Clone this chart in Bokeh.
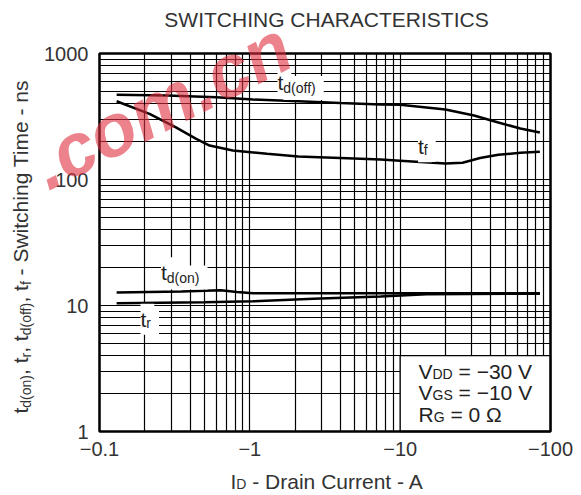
import math
from bokeh.plotting import figure
from bokeh.models import Label, BoxAnnotation, FixedTicker, Range1d, Grid
from bokeh.embed import file_html
from bokeh.resources import INLINE

# ---------------- data ----------------
# drain current magnitude (A) and switching times (ns)
toff_x = [0.13, 0.28, 0.6, 1.05, 2.1, 4, 7.4, 10, 20, 31, 45, 63, 85]
toff_y = [470, 464, 450, 431, 418, 405, 394, 392, 360, 322, 283, 254, 236]

tf_x = [0.13, 0.215, 0.32, 0.44, 0.54, 0.77, 1.3, 2.1, 4, 7.4, 12, 20, 26, 34, 45, 63, 85]
tf_y = [418, 332, 260, 210, 186, 170, 160, 152, 148, 144, 139, 134, 136, 148, 157, 163, 166]

ton_x = [0.13, 0.35, 0.64, 0.82, 1.05, 7.4, 85]
ton_y = [12.7, 12.9, 13.2, 12.8, 12.5, 12.5, 12.5]

tr_x = [0.13, 0.5, 1.05, 2.65, 7.4, 15, 85]
tr_y = [10.4, 10.6, 10.8, 11.3, 11.8, 12.3, 12.4]

x_ticks = [0.1, 1, 10, 100]
x_tick_labels = ["\u22120.1", "\u22121", "\u221210", "\u2212100"]
y_ticks = [1, 10, 100, 1000]
y_tick_labels = ["1", "10", "100", "1000"]
x_minor = [m * 10.0 ** k for k in (-1, 0, 1) for m in range(2, 10)]
y_minor = [m * 10.0 ** k for k in (0, 1, 2) for m in range(2, 10)]

title_text = "SWITCHING CHARACTERISTICS"
cond_box = dict(left=10, right=100, bottom=1, top=4)

# ---------------- geometry ----------------
FONT = "Liberation Sans"
W, H = 573, 494                    # canvas
PL, PR, PT, PB = 99, 550, 53, 431  # data rectangle on the canvas
XMIN, XMAX = x_ticks[0], x_ticks[-1]
YMIN, YMAX = y_ticks[0], y_ticks[-1]
xdec = (PR - PL) / math.log10(XMAX / XMIN)
ydec = (PB - PT) / math.log10(YMAX / YMIN)
x_lo = XMIN * 10 ** (-PL / xdec)
x_hi = XMAX * 10 ** ((W - PR) / xdec)
y_lo = YMIN * 10 ** (-(H - PB) / ydec)
y_hi = YMAX * 10 ** (PT / ydec)

p = figure(width=W, height=H, x_axis_type="log", y_axis_type="log",
           x_range=Range1d(x_lo, x_hi), y_range=Range1d(y_lo, y_hi),
           output_backend="svg", toolbar_location=None, title=None,
           min_border=0)
p.background_fill_color = "white"
p.border_fill_color = "white"
p.outline_line_color = None

xt = FixedTicker(ticks=x_ticks, minor_ticks=x_minor)
yt = FixedTicker(ticks=y_ticks, minor_ticks=y_minor)
p.xaxis.ticker = xt
p.yaxis.ticker = yt
p.xgrid.ticker = xt
p.ygrid.ticker = yt
p.xaxis.fixed_location = YMIN
p.yaxis.fixed_location = XMIN
p.xaxis.major_label_overrides = dict(zip(x_ticks, x_tick_labels))
p.yaxis.major_label_overrides = dict(zip(y_ticks, y_tick_labels))

for ax in (p.xaxis, p.yaxis):
    ax.axis_line_color = None
    ax.major_tick_line_color = None
    ax.minor_tick_line_color = None
    ax.major_tick_out = 0
    ax.minor_tick_out = 0
    ax.major_label_text_font = FONT
    ax.major_label_text_font_size = "20px"
    ax.major_label_text_color = "#333333"
p.xaxis.major_label_standoff = 10
p.yaxis.major_label_standoff = 11

has_cross = "cross_bounds" in Grid.properties()
for g, b, cb in ((p.xgrid, (XMIN, XMAX), (YMIN, YMAX)),
                 (p.ygrid, (YMIN, YMAX), (XMIN, XMAX))):
    g.bounds = b
    if has_cross:
        g.cross_bounds = cb
    g.grid_line_color = "black" if has_cross else None
    g.grid_line_width = 1.2
    g.minor_grid_line_color = "black" if has_cross else None
    g.minor_grid_line_width = 1.2

if not has_cross:
    xs_all = x_ticks + x_minor
    ys_all = y_ticks + y_minor
    p.segment(xs_all, [YMIN] * len(xs_all), xs_all, [YMAX] * len(xs_all),
              line_color="black", line_width=1.2)
    p.segment([XMIN] * len(ys_all), ys_all, [XMAX] * len(ys_all), ys_all,
              line_color="black", line_width=1.2)

for xs, ys in ((toff_x, toff_y), (tf_x, tf_y), (ton_x, ton_y), (tr_x, tr_y)):
    p.line(xs, ys, line_color="black", line_width=2.5)

# test-condition box, then the frame border of the data area
p.add_layout(BoxAnnotation(left=cond_box["left"], right=cond_box["right"],
                           bottom=cond_box["bottom"], top=cond_box["top"],
                           fill_color="white", fill_alpha=1.0,
                           line_color="black", line_width=1.3, line_alpha=1.0))
p.add_layout(BoxAnnotation(left=XMIN, right=XMAX, bottom=YMIN, top=YMAX,
                           fill_alpha=0.0, line_color="black", line_width=2.5,
                           line_alpha=1.0))

# ---------------- text helpers ----------------
WID = {" ": 278, "(": 333, ")": 333, ",": 278, "-": 333, ".": 278, "=": 584,
       "\u2212": 584, "A": 667, "C": 722, "D": 722, "G": 778, "I": 278, "R": 722,
       "S": 667, "T": 611, "V": 667, "a": 556, "c": 500, "d": 556, "e": 556,
       "f": 278, "g": 556, "h": 556, "i": 222, "m": 833, "n": 556, "o": 556,
       "r": 333, "s": 500, "t": 278, "u": 556, "w": 722, "\u03a9": 768}


def tw(s, size):
    return sum(WID.get(c, 556) for c in s) * size / 1000.0


BASE_SHIFT = 0.35   # labels are laid out about the em-box middle; shift to the baseline
queues = {"bg": [], "fg": [], "wm": []}


def put(text, px, py, size, angle=0.0, color="#222222", align="left",
        style="normal", alpha=1.0, kind="fg"):
    off = BASE_SHIFT * size
    px -= off * math.sin(angle)
    py -= off * math.cos(angle)
    lab = Label(x=px, y=H - py, x_units="screen", y_units="screen",
                text=text, angle=angle, text_font=FONT,
                text_font_size=f"{size}px", text_color=color,
                text_align=align, text_baseline="alphabetic",
                text_font_style=style, text_alpha=alpha)
    if kind == "bg":
        lab.text_color = "white"
        lab.background_fill_color = "white"
        lab.background_fill_alpha = 1.0
        lab.padding = 4
    queues[kind].append(lab)


def rich(pieces, px, py, angle=0.0, color="#222222", bg=False):
    along = 0.0
    for text, size, drop in pieces:
        lead = len(text) - len(text.lstrip(" "))
        along += tw(" " * lead, size)
        t = text.lstrip(" ")
        if angle == 0.0:
            if bg:
                put(t, px + along, py + drop, size, kind="bg")
            put(t, px + along, py + drop, size, color=color)
        else:
            put(t, px + drop, py - along, size, angle=angle, color=color)
        along += tw(t, size)


MAIN, SUB = 21, 14

# curve labels (white backing)
rich([("t", MAIN, 0), ("d(off)", SUB, 3)], 277, 89.5, bg=True)
rich([("t", MAIN, 0), ("f", SUB, 1)], 417.5, 153.5, bg=True)
rich([("t", MAIN, 0), ("d(on)", SUB, 2.5)], 160.5, 279.5, bg=True)
rich([("t", MAIN, 0), ("r", SUB, 1)], 140, 326, bg=True)

# test conditions
rich([("V", MAIN, 0), ("DD", SUB, 0), (" = \u221230 V", MAIN, 0)], 418, 378)
rich([("V", MAIN, 0), ("GS", SUB, 0), (" = \u221210 V", MAIN, 0)], 418, 399.5)
rich([("R", MAIN, 0), ("G", SUB, 0), (" = 0 \u03a9", MAIN, 0)], 418, 421)

# axis titles
rich([("I", MAIN, 0), ("D", SUB, 0), (" - Drain Current - A", MAIN, 0)],
     230, 488.5, color="#333333")
rich([("t", MAIN, 0), ("d(on)", SUB, 3), (", t", MAIN, 0), ("r", SUB, 3),
      (", t", MAIN, 0), ("d(off)", SUB, 3), (", t", MAIN, 0), ("f", SUB, 3),
      (" - Switching Time - ns", MAIN, 0)],
     27, 413, angle=math.pi / 2, color="#333333")

# chart title
put(title_text, 326, 26.7, MAIN, color="#333333", align="center")

# watermark
put(".com.cn", 48, 191, 74, angle=0.47, color="#e0303f",
    style="bold italic", alpha=0.6, kind="wm")

for kind in ("bg", "fg", "wm"):
    for lab in queues[kind]:
        p.add_layout(lab)

open("out.html", "w").write(file_html(p, INLINE))
